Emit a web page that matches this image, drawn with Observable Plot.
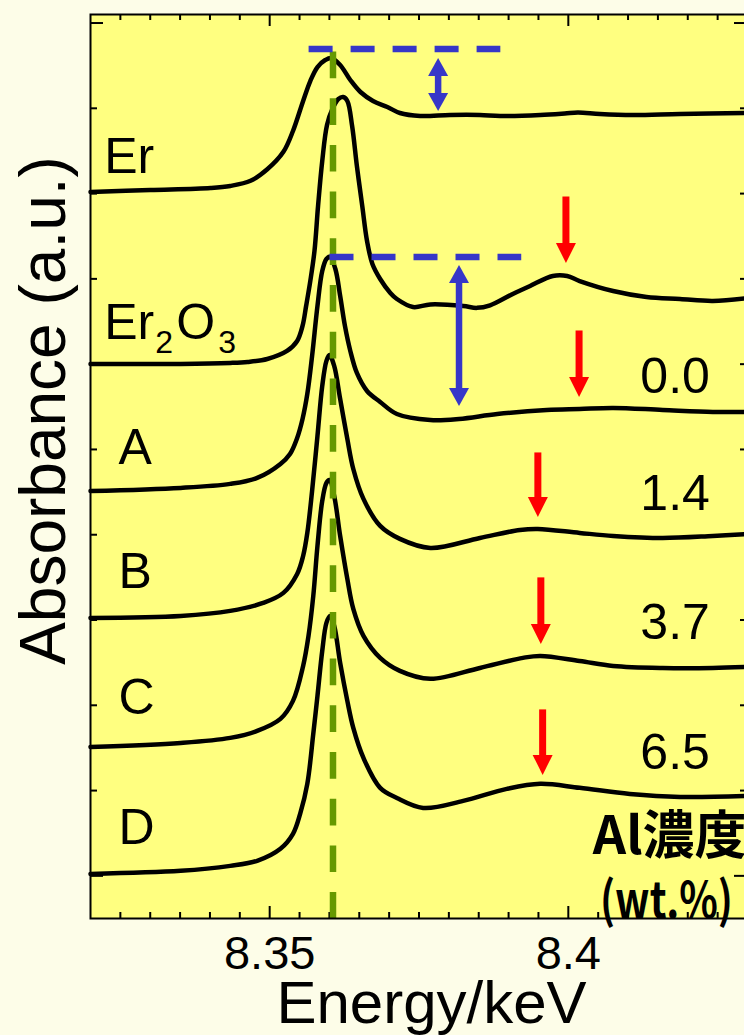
<!DOCTYPE html>
<html><head><meta charset="utf-8">
<script src="https://cdn.jsdelivr.net/npm/d3@7"></script>
<script src="https://cdn.jsdelivr.net/npm/@observablehq/plot@0.6"></script>
<style>
html,body{margin:0;padding:0;background:#fdfde8;overflow:hidden;}
#chart svg{display:block;}
</style></head><body><div id="chart"></div>
<script>
// ---------------- data (energy in keV, normalized absorbance + vertical offset) ----------------
const erE   = [8.3200,8.3300,8.3401,8.3434,8.3468,8.3496,8.3523,8.3539,8.3556,8.3568,8.3580,8.3593,8.3603,8.3618,8.3635,8.3652,8.3673,8.3697,8.3718,8.3752,8.3802,8.3852,8.3886,8.3953,8.3994,8.4016,8.4053,8.4108,8.4187,8.4300];
const erAbs = [8.019,8.042,8.066,8.090,8.150,8.285,8.490,8.734,9.086,9.320,9.484,9.566,9.590,9.508,9.332,9.191,9.086,9.015,8.945,8.910,8.922,8.922,8.910,8.922,8.940,8.952,8.934,8.922,8.934,8.945];

const er2o3E   = [8.3200,8.3351,8.3434,8.3463,8.3496,8.3529,8.3546,8.3555,8.3561,8.3568,8.3575,8.3581,8.3588,8.3596,8.3605,8.3615,8.3623,8.3630,8.3638,8.3646,8.3655,8.3663,8.3672,8.3685,8.3702,8.3713,8.3740,8.3769,8.3824,8.3847,8.3869,8.3907,8.3936,8.3974,8.3998,8.4019,8.4075,8.4131,8.4187,8.4242,8.4300];
const er2o3Abs = [6.002,6.002,6.014,6.026,6.061,6.155,6.272,6.448,6.682,6.975,7.327,7.855,8.382,8.804,8.992,9.109,9.132,9.086,8.793,8.324,7.855,7.444,7.175,6.999,6.835,6.764,6.670,6.700,6.682,6.660,6.690,6.823,6.917,7.034,7.034,6.975,6.858,6.788,6.764,6.741,6.776];

const aE   = [8.3200,8.3351,8.3434,8.3479,8.3518,8.3534,8.3546,8.3555,8.3563,8.3571,8.3580,8.3588,8.3595,8.3601,8.3610,8.3618,8.3626,8.3635,8.3646,8.3663,8.3685,8.3713,8.3769,8.3817,8.3881,8.3964,8.4019,8.4075,8.4158,8.4242,8.4300];
const aAbs = [4.513,4.549,4.596,4.666,4.830,4.947,5.135,5.358,5.651,6.096,6.682,7.093,7.233,7.257,7.116,6.800,6.448,6.155,5.897,5.686,5.557,5.416,5.346,5.358,5.416,5.463,5.475,5.487,5.463,5.440,5.440];

const bE   = [8.3200,8.3351,8.3434,8.3489,8.3523,8.3546,8.3556,8.3563,8.3571,8.3580,8.3588,8.3595,8.3600,8.3608,8.3618,8.3630,8.3640,8.3657,8.3685,8.3718,8.3769,8.3852,8.3919,8.3949,8.4019,8.4075,8.4158,8.4242,8.4300];
const bAbs = [3.025,3.048,3.107,3.200,3.318,3.540,3.751,4.021,4.513,5.158,5.744,6.038,6.108,5.979,5.592,5.123,4.771,4.420,4.103,3.951,3.845,3.962,4.056,4.068,4.021,3.986,3.962,3.986,4.009];

const cE   = [8.3200,8.3351,8.3434,8.3479,8.3518,8.3539,8.3556,8.3565,8.3573,8.3580,8.3588,8.3595,8.3600,8.3608,8.3618,8.3630,8.3640,8.3657,8.3685,8.3718,8.3769,8.3852,8.3924,8.3953,8.4019,8.4075,8.4158,8.4242,8.4300];
const cAbs = [1.512,1.559,1.618,1.700,1.841,2.052,2.462,2.814,3.283,3.869,4.396,4.607,4.642,4.455,3.986,3.482,3.130,2.814,2.556,2.403,2.310,2.438,2.556,2.579,2.520,2.462,2.438,2.438,2.450];

const dE   = [8.3200,8.3351,8.3434,8.3479,8.3518,8.3539,8.3551,8.3563,8.3573,8.3580,8.3588,8.3595,8.3601,8.3608,8.3618,8.3630,8.3640,8.3657,8.3685,8.3713,8.3757,8.3824,8.3897,8.3953,8.4019,8.4103,8.4187,8.4300];
const dAbs = [0.023,0.059,0.117,0.176,0.317,0.492,0.727,1.079,1.665,2.110,2.638,2.966,3.048,2.931,2.497,2.052,1.735,1.383,1.032,0.914,0.797,0.879,1.020,1.079,1.032,0.961,0.926,0.938];

// labels
const sampleLabels = ["A","B","C","D"];
const sampleLabelY = [4.830,3.376,1.899,0.375];
const concLabels = ["0.0","1.4","3.7","6.5"];
const concLabelY = [5.662,4.291,2.778,1.254];
const erLabelY = 8.241, er2o3LabelY = 6.295;

// ticks
const xMajor = [8.35, 8.4];
const xMinor = [8.325,8.33,8.335,8.34,8.345,8.355,8.36,8.365,8.37,8.375,8.38,8.385,8.39,8.395,8.405,8.41,8.415,8.42,8.425];
const yMajor = [0, 10];
const yMinor = [1,2,3,4,5,6,7,8,9];

// annotations
const peakEnergy = 8.3606;           // green dashed line
const peakLineTop = 9.660;
const blueLines = [{y: 9.695, x1: 8.3566, x2: 8.3887}, {y: 7.257, x1: 8.3601, x2: 8.3922}];
const blueArrows = [{x: 8.3782, top: 9.590, bottom: 8.968}, {x: 8.3817, top: 7.163, bottom: 5.510}];
const redArrowE    = [8.3996, 8.4018, 8.3949, 8.3954, 8.3957];
const redArrowTail = [7.960, 6.389, 4.959, 3.494, 1.946];
const redArrowTip  = [7.186, 5.615, 4.209, 2.720, 1.184];

// ---------------- build tables ----------------
const curves = [["Er",erE,erAbs],["Er2O3",er2o3E,er2o3Abs],["A",aE,aAbs],["B",bE,bAbs],["C",cE,cAbs],["D",dE,dAbs]];
const rows = curves.flatMap(([s,E,V]) => E.map((e,i) => ({series: s, E: e, v: V[i]})));
const redArrows = redArrowE.map((x,i) => ({x, tail: redArrowTail[i], tip: redArrowTip[i]}));

const W = 744, H = 1035, mT = 14, mB = 117, mL = 90, mR = -3;
const frameH = H - mT - mB, frameW = W - mL - mR;
const headDown = (w, h) => ({draw(ctx){ ctx.moveTo(0,0); ctx.lineTo(-w/2,-h); ctx.lineTo(w/2,-h); ctx.closePath(); }});
const headUp   = (w, h) => ({draw(ctx){ ctx.moveTo(0,0); ctx.lineTo(-w/2,h); ctx.lineTo(w/2,h); ctx.closePath(); }});
const sans = "'Liberation Sans', Arial, Helvetica, sans-serif";
const cjk = "'Noto Sans CJK JP', 'Noto Sans CJK SC', sans-serif";
const BLUE = "#3636c8", RED = "#ff0000", GREEN = "#669900";
const labelX = 8.3247, erX = 8.3223, concX = 8.4237;
const txt = {text: d => d, textAnchor: "start", lineAnchor: "bottom", fill: "#000"};

const chart = Plot.plot({
  width: W, height: H,
  marginTop: mT, marginBottom: mB, marginLeft: mL, marginRight: mR,
  x: {domain: [8.32, 8.43], axis: null},
  y: {domain: [-0.5, 10.1], axis: null},
  style: {background: "transparent", fontFamily: sans, overflow: "visible"},
  marks: [
    Plot.frame({fill: "#ffff80", stroke: null}),
    // inward ticks on all four sides
    Plot.ruleX(xMinor, {x: d => d, insetTop: frameH - 6, stroke: "#000", strokeWidth: 2}),
    Plot.ruleX(xMajor, {x: d => d, insetTop: frameH - 12, stroke: "#000", strokeWidth: 2}),
    Plot.ruleX(xMinor, {x: d => d, insetBottom: frameH - 6, stroke: "#000", strokeWidth: 2}),
    Plot.ruleX(xMajor, {x: d => d, insetBottom: frameH - 12, stroke: "#000", strokeWidth: 2}),
    Plot.ruleY(yMinor, {y: d => d, insetRight: frameW - 7, stroke: "#000", strokeWidth: 2}),
    Plot.ruleY(yMajor, {y: d => d, insetRight: frameW - 13, stroke: "#000", strokeWidth: 2}),
    Plot.ruleY(yMinor, {y: d => d, insetLeft: frameW - 7, stroke: "#000", strokeWidth: 2}),
    Plot.ruleY(yMajor, {y: d => d, insetLeft: frameW - 13, stroke: "#000", strokeWidth: 2}),
    // spectra
    Plot.line(rows, {x: "E", y: "v", z: "series", stroke: "#000", strokeWidth: 4.5, curve: "catmull-rom", strokeLinejoin: "round", strokeLinecap: "round"}),
    // green dashed peak line
    Plot.ruleX([peakEnergy], {x: d => d, y1: peakLineTop, y2: -0.5, stroke: GREEN, strokeWidth: 6.5, strokeDasharray: "26.7,20"}),
    // blue dashed peak-height lines and double arrows
    Plot.ruleY(blueLines, {y: "y", x1: "x1", x2: "x2", stroke: BLUE, strokeWidth: 6.5, strokeDasharray: "24,18"}),
    Plot.ruleX(blueArrows, {x: "x", y1: "top", y2: "bottom", insetTop: 15, insetBottom: 15, stroke: BLUE, strokeWidth: 6.5}),
    Plot.dot(blueArrows, {x: "x", y: "top", symbol: headUp(20, 18), fill: BLUE, stroke: "none"}),
    Plot.dot(blueArrows, {x: "x", y: "bottom", symbol: headDown(20, 18), fill: BLUE, stroke: "none"}),
    // red arrows
    Plot.ruleX(redArrows, {x: "x", y1: "tail", y2: "tip", insetBottom: 17, stroke: RED, strokeWidth: 7}),
    Plot.dot(redArrows, {x: "x", y: "tip", symbol: headDown(20, 20), fill: RED, stroke: "none"}),
    // frame
    Plot.frame({stroke: "#000", strokeWidth: 2}),
    // sample labels
    Plot.text(["Er"], {...txt, x: erX, y: erLabelY, fontSize: 50}),
    Plot.text(["Er"], {...txt, x: erX, y: er2o3LabelY, fontSize: 50}),
    Plot.text(["2"], {...txt, x: erX, y: er2o3LabelY, dx: 51, dy: 14, fontSize: 32}),
    Plot.text(["O"], {...txt, x: erX, y: er2o3LabelY, dx: 72, fontSize: 50}),
    Plot.text(["3"], {...txt, x: erX, y: er2o3LabelY, dx: 114, dy: 14, fontSize: 32}),
    Plot.text(sampleLabels, {...txt, x: labelX, y: (d, i) => sampleLabelY[i], fontSize: 50}),
    Plot.text(concLabels, {...txt, x: concX, y: (d, i) => concLabelY[i], textAnchor: "end", fontSize: 50}),
    Plot.text(["Al濃度"], {...txt, x: 8.4041, y: 0.258, fontSize: 52, fontWeight: "bold", fontFamily: cjk}),
    Plot.text(["(wt.%)"], {...txt, x: 8.4053, y: -0.492, fontSize: 50, fontWeight: "bold", fontFamily: cjk}),
    // x tick labels
    Plot.text(xMajor, {x: d => d, frameAnchor: "bottom", dy: 50, text: d => String(d), lineAnchor: "bottom", fontSize: 47, fill: "#000"}),
    // axis titles
    Plot.text(["Energy/keV"], {frameAnchor: "bottom", dx: 12.5, dy: 104, text: d => d, lineAnchor: "bottom", fontSize: 60, fill: "#000"}),
    Plot.text(["Absorbance (a.u.)"], {frameAnchor: "left", dx: -26, dy: -56, rotate: -90, text: d => d, lineAnchor: "bottom", textAnchor: "middle", fontSize: 64, fill: "#000"})
  ]
});
// squeeze the condensed gothic unit label to the width it has in the reference
chart.querySelectorAll("text").forEach(t => {
  if (t.textContent === "(wt.%)") { t.setAttribute("textLength", 133); t.setAttribute("lengthAdjust", "spacingAndGlyphs"); }
});
document.getElementById("chart").appendChild(chart);
</script></body></html>
